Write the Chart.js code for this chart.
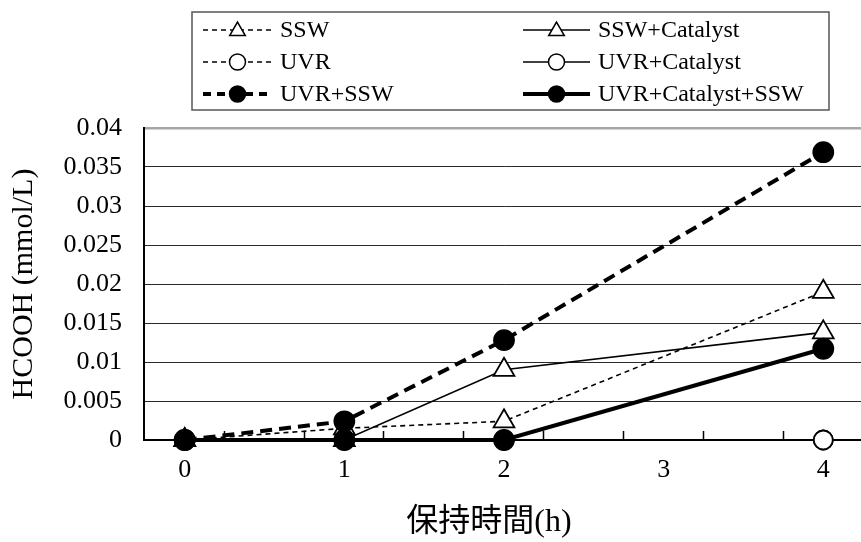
<!DOCTYPE html>
<html>
<head>
<meta charset="utf-8">
<script src="https://cdn.jsdelivr.net/npm/chart.js@4.4.1/dist/chart.umd.min.js"></script>
<style>
  html, body { margin: 0; padding: 0; background: #fff; overflow: hidden; }
  #wrap { width: 877px; height: 542px; }
</style>
</head>
<body>
<div id="wrap"><canvas id="c" width="877" height="542"></canvas></div>
<script>
// Holding time (h) at which HCOOH was measured
const hours = [0, 1, 2, 4];
// Axis labels along the time axis
const hourTicks = [0, 1, 2, 3, 4];

// HCOOH concentration (mmol/L) per condition
const ssw              = [0, 0.0015, 0.0024, 0.0190];
const sswCatalyst      = [0, 0,      0.0090, 0.0138];
const uvr              = [0, 0,      0,      0];
const uvrCatalyst      = [0, 0,      0,      0];
const uvrSsw           = [0, 0.0024, 0.0128, 0.0369];
const uvrCatalystSsw   = [0, 0,      0,      0.0117];

const seriesNames = ['SSW', 'SSW+Catalyst', 'UVR', 'UVR+Catalyst', 'UVR+SSW', 'UVR+Catalyst+SSW'];

const SERIF = "'Liberation Serif', 'Times New Roman', serif";
const pts = vals => hours.map((h, i) => ({ x: h, y: vals[i] }));

const thinDash = [5, 4];
const thickDash = [12, 7];

function series(label, vals, opt) {
  return Object.assign({
    label,
    data: pts(vals),
    borderColor: '#000',
    pointBorderColor: '#000',
    pointBorderWidth: 1.8,
    tension: 0,
    clip: false
  }, opt);
}

const datasets = [
  series(seriesNames[0], ssw, { borderWidth: 1.6, borderDash: thinDash, pointStyle: 'triangle', pointRadius: 12, pointHoverRadius: 12, pointBackgroundColor: '#fff', order: 3 }),
  series(seriesNames[1], sswCatalyst, { borderWidth: 1.6, borderDash: [], pointStyle: 'triangle', pointRadius: 12, pointHoverRadius: 12, pointBackgroundColor: '#fff', order: 2 }),
  series(seriesNames[2], uvr, { borderWidth: 1.6, borderDash: thinDash, pointStyle: 'circle', pointRadius: 9.5, pointHoverRadius: 9.5, pointBackgroundColor: '#fff', order: 5 }),
  series(seriesNames[3], uvrCatalyst, { borderWidth: 1.6, borderDash: [], pointStyle: 'circle', pointRadius: 9.5, pointHoverRadius: 9.5, pointBackgroundColor: '#fff', order: 4 }),
  series(seriesNames[4], uvrSsw, { borderWidth: 4, borderDash: thickDash, pointStyle: 'circle', pointRadius: 10, pointHoverRadius: 10, pointBackgroundColor: '#000', order: 1 }),
  series(seriesNames[5], uvrCatalystSsw, { borderWidth: 4, borderDash: [], pointStyle: 'circle', pointRadius: 10, pointHoverRadius: 10, pointBackgroundColor: '#000', order: 0 })
];

// Small upward tick marks on the time axis, every half hour between hours
const axisTickMarks = {
  id: 'axisTickMarks',
  afterDatasetsDraw(chart) {
    const x = chart.scales.x, y = chart.scales.y;
    const ctx = chart.ctx;
    const base = y.getPixelForValue(0);
    ctx.save();
    ctx.strokeStyle = '#000';
    ctx.lineWidth = 1.5;
    for (let v = x.min + 0.005; v <= x.max; v += 0.5) {
      const px = Math.round(x.getPixelForValue(v - 0.005)) + 0.5;
      if (px <= x.left + 2) continue;
      ctx.beginPath();
      ctx.moveTo(px, base);
      ctx.lineTo(px, base - 9);
      ctx.stroke();
    }
    ctx.restore();
  }
};

// Boxed two-column legend showing line style with marker
const boxedLegend = {
  id: 'boxedLegend',
  afterDraw(chart) {
    const ctx = chart.ctx;
    const box = { l: 192, t: 12, r: 829, b: 110 };
    ctx.save();
    ctx.fillStyle = '#fff';
    ctx.fillRect(box.l, box.t, box.r - box.l, box.b - box.t);
    ctx.strokeStyle = '#555';
    ctx.lineWidth = 1.5;
    ctx.strokeRect(box.l, box.t, box.r - box.l, box.b - box.t);

    const cols = [
      { x0: 203, x1: 272, tx: 280 },
      { x0: 523, x1: 590, tx: 598 }
    ];
    const rows = [30, 62, 94];
    chart.data.datasets.forEach((ds, i) => {
      const c = cols[i % 2], yy = rows[Math.floor(i / 2)];
      const mx = (c.x0 + c.x1) / 2;
      ctx.strokeStyle = '#000';
      ctx.lineWidth = ds.borderWidth;
      ctx.setLineDash(ds.borderWidth > 2 ? [8, 6] : [5, 4]);
      if (!ds.borderDash.length) ctx.setLineDash([]);
      ctx.beginPath();
      ctx.moveTo(c.x0, yy);
      ctx.lineTo(c.x1, yy);
      ctx.stroke();
      ctx.setLineDash([]);
      ctx.fillStyle = ds.pointBackgroundColor;
      ctx.strokeStyle = '#000';
      ctx.lineWidth = 1.5;
      const r = ds.pointStyle === 'triangle' ? 9 : 8;
      const ty = ds.pointStyle === 'triangle' ? yy + 1 : yy;
      Chart.helpers.drawPoint(ctx, { pointStyle: ds.pointStyle, radius: r, rotation: 0, borderWidth: 1.5 }, mx, ty);
      ctx.fillStyle = '#000';
      ctx.font = '24px ' + SERIF;
      ctx.textBaseline = 'middle';
      ctx.textAlign = 'left';
      ctx.fillText(ds.label, c.tx, yy + 1);
    });

    // time axis title
    ctx.font = "32px 'Liberation Serif', 'Noto Sans CJK JP', serif";
    ctx.textAlign = 'center';
    ctx.textBaseline = 'middle';
    ctx.fillStyle = '#000';
    ctx.fillText('保持時間(h)', 489, 523);
    ctx.restore();
  }
};

new Chart(document.getElementById('c'), {
  type: 'line',
  data: { datasets },
  options: {
    responsive: false,
    animation: false,
    events: [],
    layout: { padding: { left: 0, top: 128, right: 8, bottom: 0 } },
    plugins: { legend: { display: false }, tooltip: { enabled: false } },
    scales: {
      x: {
        type: 'linear',
        min: -0.255,
        max: 4.25,
        afterBuildTicks: s => { s.ticks = hourTicks.map(v => ({ value: v })); },
        afterFit: s => { s.height = 102; },
        grid: { display: false, drawTicks: false },
        border: { display: true, color: '#000', width: 2 },
        ticks: { color: '#000', padding: 15, maxRotation: 0, autoSkip: false, font: { family: SERIF, size: 26 } }
      },
      y: {
        min: 0,
        max: 0.04,
        afterFit: s => { s.width = 144; },
        ticks: {
          stepSize: 0.005,
          color: '#000',
          padding: 22,
          font: { family: SERIF, size: 26 },
          callback: v => String(+v.toFixed(3))
        },
        grid: {
          drawTicks: false,
          color: c => (c.tick && c.tick.value >= 0.04 - 1e-9) ? '#a6a6a6' : '#2a2a2a',
          lineWidth: c => (c.tick && c.tick.value >= 0.04 - 1e-9) ? 2.5 : 1
        },
        border: { display: true, color: '#000', width: 2 },
        title: {
          display: true,
          text: 'HCOOH (mmol/L)',
          color: '#000',
          font: { family: SERIF, size: 30 },
          padding: { top: 6, bottom: 0 }
        }
      }
    }
  },
  plugins: [axisTickMarks, boxedLegend]
});
</script>
</body>
</html>
